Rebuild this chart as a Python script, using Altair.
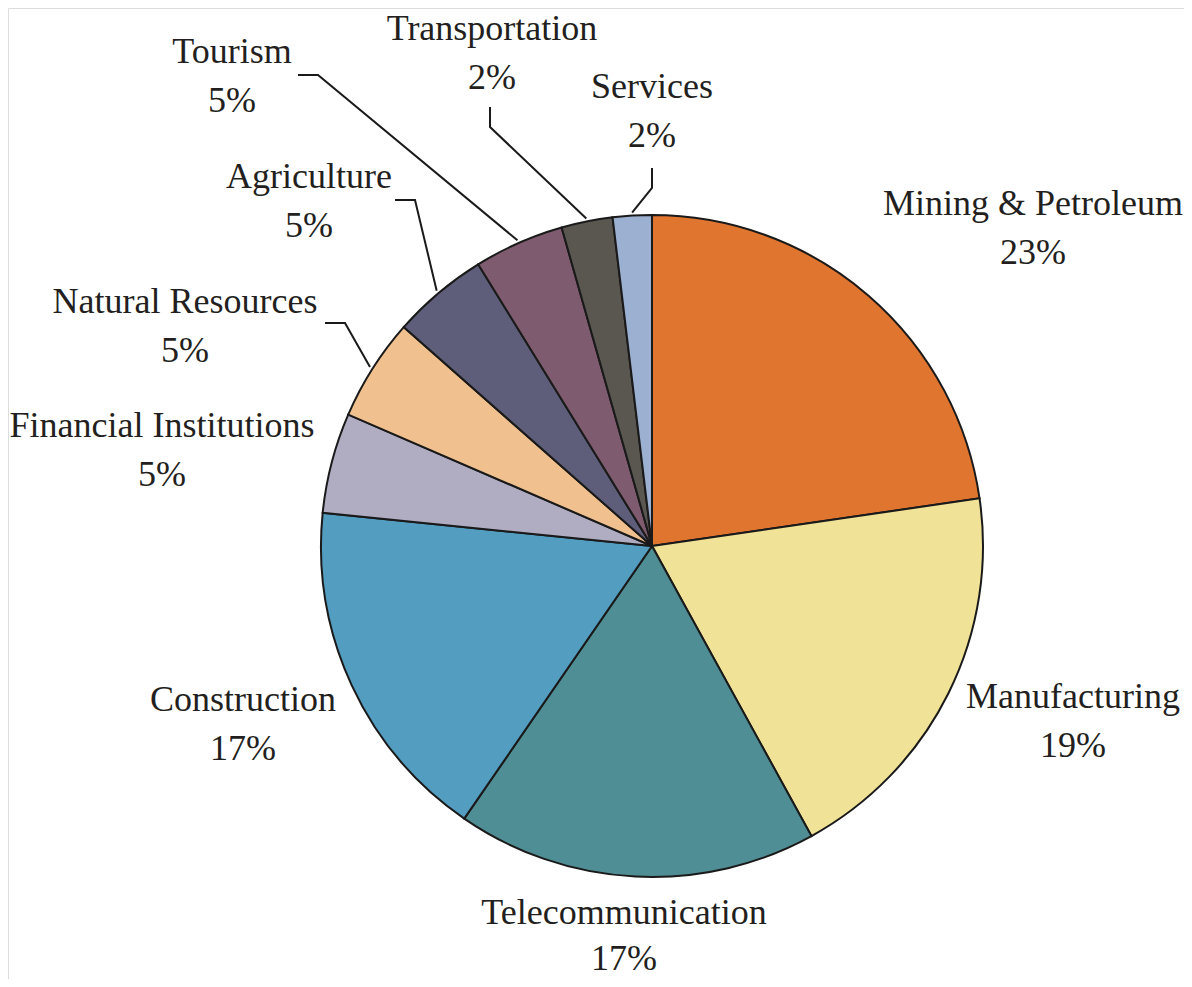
import math
import altair as alt
import pandas as pd

# ---- data ----
categories = ["Mining & Petroleum", "Manufacturing", "Telecommunication", "Construction",
              "Financial Institutions", "Natural Resources", "Agriculture", "Tourism",
              "Transportation", "Services"]
shares = [22.7, 19.3, 17.6, 17.0, 4.9, 5.0, 4.7, 4.4, 2.5, 1.9]
pct_labels = ["23%", "19%", "17%", "17%", "5%", "5%", "5%", "5%", "2%", "2%"]
colors = ["#E07530", "#F0E296", "#4F8E94", "#539DC0", "#B0ACC2",
          "#F0C08E", "#5E5E7A", "#7E5B6E", "#5A5650", "#9CB0D2"]

# ---- layout (pixels, relative to the pie centre; y measured downward) ----
W, H = 1176, 971
CX, CY = 644, 538          # pie centre inside the view
R = 331
FONT = "Liberation Serif"
FS = 36
LINE_GAP = 49
# label anchor: (x centre offset, first-line baseline offset)
label_anchor = {
    "Mining & Petroleum": (381, -331),
    "Manufacturing": (421, 162),
    "Telecommunication": (-28, 378),
    "Construction": (-409, 165),
    "Financial Institutions": (-490, -109),
    "Natural Resources": (-467, -233),
    "Agriculture": (-343, -358),
    "Tourism": (-420, -483),
    "Transportation": (-160, -506),
    "Services": (0, -448),
}
# leader lines: label end point and elbow point
leaders = {
    "Tourism": [(-354, -471), (-334, -471)],
    "Agriculture": [(-257, -346), (-237, -346)],
    "Natural Resources": [(-327, -223), (-307, -223)],
    "Transportation": [(-162, -439), (-162, -419)],
    "Services": [(0, -378), (0, -358)],
}
EDGE_R = 334

total = sum(shares)
cum = 0.0
mid = {}
for c, s in zip(categories, shares):
    mid[c] = (cum + s / 2) / total * 2 * math.pi
    cum += s

pie_df = pd.DataFrame({"category": categories, "share": shares,
                       "order": list(range(len(categories)))})

name_rows, pct_rows = [], []
for c, p in zip(categories, pct_labels):
    ax, ay = label_anchor[c]
    gap = 46 if c == "Telecommunication" else LINE_GAP
    name_rows.append({"category": c, "x": ax, "y": -ay, "text": c})
    pct_rows.append({"category": c, "x": ax, "y": -(ay + gap), "text": p})
names_df = pd.DataFrame(name_rows)
pcts_df = pd.DataFrame(pct_rows)

line_rows = []
for c, pts in leaders.items():
    a = mid[c]
    edge = (EDGE_R * math.sin(a), -EDGE_R * math.cos(a))
    for i, (px, py) in enumerate(pts + [edge]):
        line_rows.append({"category": c, "step": i, "x": px, "y": -py})
lines_df = pd.DataFrame(line_rows)

xscale = alt.Scale(domain=[-CX, W - CX], nice=False, zero=False)
yscale = alt.Scale(domain=[-(H - CY), CY], nice=False, zero=False)

pie = alt.Chart(pie_df).mark_arc(outerRadius=R, stroke="#1a1a1a", strokeWidth=2).encode(
    theta=alt.Theta("share:Q", stack=True),
    color=alt.Color("category:N", scale=alt.Scale(domain=categories, range=colors), legend=None),
    order=alt.Order("order:Q"),
    x=alt.value(CX),
    y=alt.value(CY),
)

leader = alt.Chart(lines_df).mark_line(color="#1a1a1a", strokeWidth=2).encode(
    x=alt.X("x:Q", scale=xscale, axis=None),
    y=alt.Y("y:Q", scale=yscale, axis=None),
    detail="category:N",
    order="step:Q",
)

def text_layer(df):
    return alt.Chart(df).mark_text(font=FONT, fontSize=FS, color="#231F20",
                                   align="center", baseline="alphabetic").encode(
        x=alt.X("x:Q", scale=xscale, axis=None),
        y=alt.Y("y:Q", scale=yscale, axis=None),
        text="text:N",
    )

chart = alt.layer(pie, leader, text_layer(names_df), text_layer(pcts_df)).properties(
    width=W, height=H, padding=0, autosize=alt.AutoSizeParams(type="none")
).configure_view(stroke="transparent", strokeWidth=0).configure(background="white")

chart.save("out.html", embed_options={"renderer": "svg", "actions": False})
